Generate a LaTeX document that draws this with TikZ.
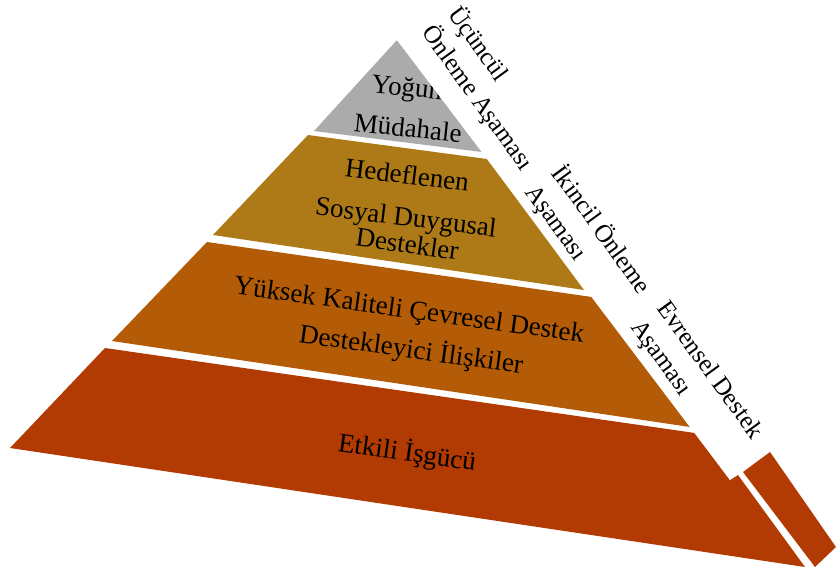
\documentclass[tikz,border=0pt]{standalone}
\usepackage{fontspec}
\setmainfont{Liberation Serif}
\definecolor{katgri}{HTML}{ABABAB}
\definecolor{kataltin}{HTML}{AD7A17}
\definecolor{katturuncu}{HTML}{B35B06}
\definecolor{katkizil}{HTML}{B23A03}
\tikzset{
  katyazi/.style={font=\fontsize{27}{30}\selectfont, inner sep=0pt, anchor=base},
  asamayazi/.style={font=\fontsize{25}{32}\selectfont, inner sep=0pt, anchor=west, align=left, rotate=-54}
}

\begin{document}
\begin{tikzpicture}[x=1pt,y=-1pt]
                \useasboundingbox (0,0) rectangle (836,574);
                \fill[katgri] (397,40) -- (482,152) -- (314,131) -- cycle;
                \fill[kataltin] (308,135) -- (487,159) -- (584,290) -- (213,235) -- cycle;
                \fill[katturuncu] (207,242) -- (592,297) -- (690,427) -- (112,341) -- cycle;
                \fill[katkizil] (105,348) -- (695,433) -- (730,480) -- (738,475) -- (805,567) -- (10,448) -- cycle;
                \node[katyazi, rotate=-6] (yogun) at (406,96) {Yoğun};
                \node[katyazi, rotate=-6] (mudahale) at (407,137) {Müdahale};
                \node[katyazi, rotate=-7] (hedef) at (406,184) {Hedeflenen};
                \node[katyazi, rotate=-7] (sosyal) at (405,226) {Sosyal Duygusal};
                \node[katyazi, rotate=-8] (destekler) at (406,253) {Destekler};
                \node[katyazi, rotate=-8] (yuksek) at (408,318) {Yüksek Kaliteli Çevresel Destek};
                \node[katyazi, rotate=-8] (iliski) at (410,358) {Destekleyici İlişkiler};
                \node[katyazi, rotate=-8] (etkili) at (406,461) {Etkili İşgücü};
                \fill[white] (397,40) -- (730,480) -- (770,452) -- (836,452) -- (836,0) -- (397,0) -- cycle;
                \fill[katkizil] (743,472) -- (770,452) -- (836,547) -- (815,567) -- cycle;
                \node[asamayazi] (ucuncul) at (440,19) {Üçüncül\\Önleme Aşaması};
                \node[asamayazi] (ikincil) at (544,178) {İkincil Önleme\\Aşaması};
                \node[asamayazi] (evrensel) at (648,314) {Evrensel Destek\\Aşaması};
            \end{tikzpicture}
\end{document}
